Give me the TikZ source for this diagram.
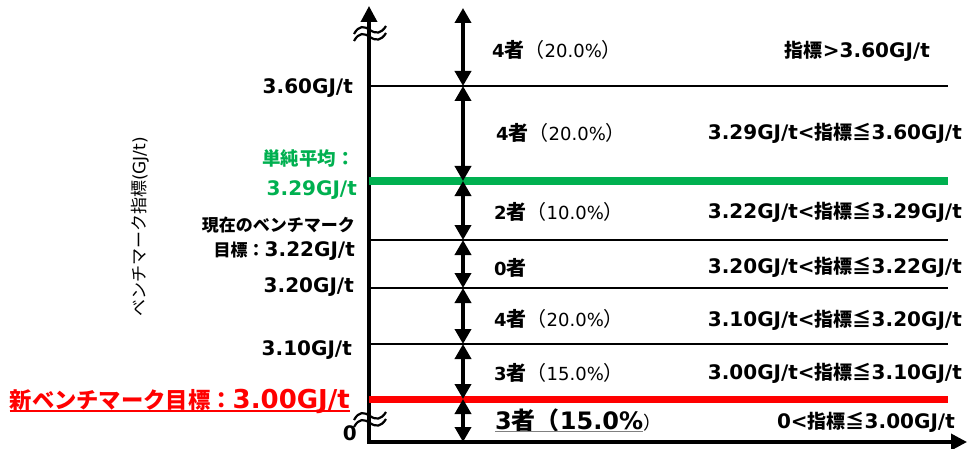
\documentclass[tikz,border=0pt]{standalone}
\usepackage{fontspec}
\setmainfont{DejaVu Sans}
\newfontfamily\jp{Noto Sans CJK JP}
\usetikzlibrary{arrows.meta}
\newcommand\Jf[2]{{\jp\fontsize{#1}{#1}\selectfont #2}}
\definecolor{gline}{HTML}{00B050}
\definecolor{rline}{HTML}{FF0000}
\begin{document}
\begin{tikzpicture}[x=1pt,y=-1pt,
  axis/.style={line width=3.5pt,line join=miter,{Triangle[width=16pt,length=16pt]}-{Triangle[width=16pt,length=16pt]}},
  level/.style={line width=2.4pt},
  dbl/.style={line width=3.6pt,{Triangle[width=16pt,length=15pt]}-{Triangle[width=16pt,length=15pt]}},
  wav/.style={line width=2.2pt},
  llab/.style={inner sep=0pt,anchor=base east,font=\bfseries\fontsize{20}{20}\selectfont},
  mlab/.style={inner sep=0pt,anchor=base west,font=\fontsize{18}{18}\selectfont},
  rlab/.style={inner sep=0pt,anchor=base east,font=\bfseries\fontsize{20}{20}\selectfont},
]
\useasboundingbox (0,0) rectangle (968,449);
% axes
\coordinate (ytop) at (369,6);
\coordinate (O) at (369,442);
\coordinate (xend) at (967,442);
\draw[axis] (ytop) -- (O) -- (xend);
% levels
\coordinate (a1) at (369,86);  \coordinate (b1) at (948,86);
\coordinate (a2) at (369,181); \coordinate (b2) at (948,181);
\coordinate (a3) at (369,240); \coordinate (b3) at (948,240);
\coordinate (a4) at (369,288); \coordinate (b4) at (948,288);
\coordinate (a5) at (369,344); \coordinate (b5) at (948,344);
\coordinate (a6) at (369,399); \coordinate (b6) at (948,399);
\draw[level] (a1) -- (b1);
\draw[line width=7pt,gline] (a2) -- (b2);
\draw[level] (a3) -- (b3);
\draw[level] (a4) -- (b4);
\draw[level] (a5) -- (b5);
\draw[line width=7pt,rline] (a6) -- (b6);
% double arrows
\coordinate (d0) at (463,8);
\coordinate (d1) at (463,86);
\coordinate (d2) at (463,181);
\coordinate (d3) at (463,240);
\coordinate (d4) at (463,288);
\coordinate (d5) at (463,344);
\coordinate (d6) at (463,399);
\coordinate (d7) at (463,442);
\draw[dbl] (d0) -- (d1);
\draw[dbl] (d1) -- (d2);
\draw[dbl] (d2) -- (d3);
\draw[dbl] (d3) -- (d4);
\draw[dbl] (d4) -- (d5);
\draw[dbl] (d5) -- (d6);
\draw[dbl] (d6) -- (d7);
% break marks
\draw[wav] (354,34) .. controls (359,25) and (364,26) .. (370,30) .. controls (376,34) and (381,34) .. (386,26);
\draw[wav] (354,41) .. controls (359,32) and (364,33) .. (370,37) .. controls (376,41) and (381,41) .. (386,33);
\draw[wav] (354,420) .. controls (359,411) and (364,412) .. (370,416) .. controls (376,420) and (381,420) .. (386,412);
\draw[wav] (354,427) .. controls (359,418) and (364,419) .. (370,423) .. controls (376,427) and (381,427) .. (386,419);
% left labels
\node[llab] (l1) at (353,94) {3.60GJ/t};
\node[llab,text=gline] (l2a) at (355,166) {\Jf{18.5}{単純平均：}};
\node[llab,text=gline] (l2b) at (357,196) {3.29GJ/t};
\node[llab] (l3a) at (355,231) {\Jf{17}{現在のベンチマーク}};
\node[llab] (l3b) at (355,256) {\Jf{17}{目標：}3.22GJ/t};
\node[llab] (l4) at (354,292) {3.20GJ/t};
\node[llab] (l5) at (352,355) {3.10GJ/t};
\node[llab,text=rline,font=\bfseries\fontsize{26}{26}\selectfont] (l6) at (350,408) {\Jf{22.3}{新ベンチマーク目標：}3.00GJ/t};
\draw[rline,line width=1.3pt] ([yshift=-3pt]l6.base west) -- ([yshift=-3pt]l6.base east);
\node[llab] (l0) at (357,440) {0};
% axis title
\node[rotate=90,inner sep=0pt,font=\fontsize{17}{17}\selectfont] (yt) at (140,227) {\Jf{17}{ベンチマーク指標}(GJ/t)};
% middle labels
\node[mlab] (m1) at (492,58) {\textbf{4\Jf{20}{者}}\Jf{20}{（}20.0\%\Jf{20}{）}};
\node[mlab] (m2) at (496,141) {\textbf{4\Jf{20}{者}}\Jf{20}{（}20.0\%\Jf{20}{）}};
\node[mlab] (m3) at (494,219) {\textbf{2\Jf{20}{者}}\Jf{20}{（}10.0\%\Jf{20}{）}};
\node[mlab] (m4) at (494,275) {\textbf{0\Jf{20}{者}}};
\node[mlab] (m5) at (494,326) {\textbf{4\Jf{20}{者}}\Jf{20}{（}20.0\%\Jf{20}{）}};
\node[mlab] (m6) at (494,380) {\textbf{3\Jf{20}{者}}\Jf{20}{（}15.0\%\Jf{20}{）}};
\node[mlab,font=\bfseries\fontsize{24}{24}\selectfont] (m7) at (495,429) {3\Jf{24}{者（}15.0\%};
\node[mlab] (m7p) at (m7.base east) {\Jf{18}{）}};
\draw[gray,line width=1.3pt] ([yshift=-2.5pt]m7.base west) -- ([yshift=-2.5pt]m7.base east);
% right labels
\node[rlab] (r1) at (930,58) {\Jf{19}{指標}>3.60GJ/t};
\node[rlab] (r2) at (962,140) {3.29GJ/t<\Jf{19}{指標≦}3.60GJ/t};
\node[rlab] (r3) at (962,218) {3.22GJ/t<\Jf{19}{指標≦}3.29GJ/t};
\node[rlab] (r4) at (962,273) {3.20GJ/t<\Jf{19}{指標≦}3.22GJ/t};
\node[rlab] (r5) at (962,326) {3.10GJ/t<\Jf{19}{指標≦}3.20GJ/t};
\node[rlab] (r6) at (962,379) {3.00GJ/t<\Jf{19}{指標≦}3.10GJ/t};
\node[rlab] (r7) at (955,428) {0<\Jf{19}{指標≦}3.00GJ/t};
\end{tikzpicture}
\end{document}
